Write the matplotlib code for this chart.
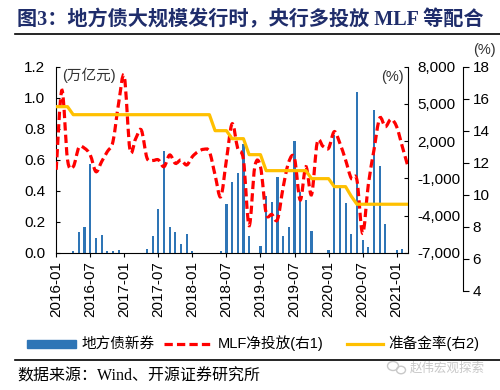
import numpy as np
import matplotlib.pyplot as plt
from matplotlib.path import Path
from matplotlib.patches import PathPatch, Rectangle, Ellipse
from matplotlib.lines import Line2D
from matplotlib.ticker import FuncFormatter

plt.rcParams['font.family'] = ['Liberation Sans', 'Noto Sans CJK SC']

# 2016-01 .. 2021-03, monthly
months = [f"{y}-{m:02d}" for y in range(2016, 2022) for m in range(1, 13)][:63]
tick_labels = ['2016-01', '2016-07', '2017-01', '2017-07', '2018-01', '2018-07',
               '2019-01', '2019-07', '2020-01', '2020-07', '2021-01']

# 地方债新券 (万亿元)
bond = [0, 0, 0, 0.013, 0.137, 0.17, 0.575, 0.094, 0.114, 0.01, 0.01, 0.02,
        0, 0, 0, 0, 0.026, 0.11, 0.285, 0.66, 0.167, 0.133, 0.058, 0.124,
        0.01, 0, 0, 0, 0, 0.015, 0.317, 0.46, 0.515, 0.70, 0.107, 0,
        0.045, 0.369, 0.328, 0.489, 0.107, 0.165, 0.719, 0.39, 0.343, 0.142, 0, 0,
        0.02, 0.76, 0.42, 0.32, 0.124, 1.04, 0.084, 0.041, 0.92, 0.56, 0.19, 0,
        0.017, 0.026, 0]

# MLF净投放 (亿元, 右1)
mlf = [-300, 6100, 500, -50, 1500, 1430, 900, -450, 350, 1160, 1960, 5050,
       7200, 1300, 2200, 2900, 650, 450, 500, -50, 890, 220, 490, 90,
       760, 1160, 1350, 1160, -720, -2470, 490, 3400, 1400, 500, -4800, -50,
       -50, -3800, -3900, -4300, -1700, 350, 620, -2730, -50, -2300, 1900, 1600,
       1430, 2770, 1830, 490, -980, -1120, -5410, -1520, 1290, 3850, 3170, 3770,
       3170, 1560, -50]

# 准备金率 (%, 右2)
rrr = [15.5] * 3 + [15.0] * 25 + [14.0] * 3 + [13.5] * 3 + [12.5] * 3 + \
      [11.5] * 8 + [11.0] * 4 + [10.5] * 3 + [9.9] + [9.4] * 10

bar_color = '#2E75B6'
red = '#FF0000'
gold = '#FFC000'
navy = '#1F2D6B'


def smooth_path(x, y):
    pts = np.column_stack([x, y]).astype(float)
    verts = [pts[0]]
    codes = [Path.MOVETO]
    n = len(pts)
    for k in range(n - 1):
        p0 = pts[k - 1] if k > 0 else pts[k]
        p1, p2 = pts[k], pts[k + 1]
        p3 = pts[k + 2] if k + 2 < n else pts[k + 1]
        verts += [p1 + (p2 - p0) / 6, p2 - (p3 - p1) / 6, p2]
        codes += [Path.CURVE4] * 3
    return Path(verts, codes)


fig = plt.figure(figsize=(5, 3.9), dpi=100)
L, R = 56.2 / 500, 408 / 500
B, T = 1 - 253 / 390, 1 - 66.7 / 390
ax = fig.add_axes([L, B, R - L, T - B])
x = np.arange(len(months))

ax.bar(x, bond, width=0.38, color=bar_color, zorder=2)
ax.set_xlim(0, len(months) - 1)
ax.set_ylim(0, 1.2)
ax.set_yticks(np.arange(0, 1.21, 0.2))
ax.yaxis.set_major_formatter(FuncFormatter(lambda v, p: f"{v:.1f}"))
ax.set_xticks([months.index(t) for t in tick_labels])
ax.set_xticklabels(tick_labels, rotation=90)
ax.tick_params(axis='y', direction='in', length=3, pad=8, labelsize=11)
ax.tick_params(axis='x', direction='out', length=3, pad=3, labelsize=11)
ax.spines['top'].set_visible(False)
ax.spines['right'].set_visible(False)
for s in ('left', 'bottom'):
    ax.spines[s].set_color('black')
ax.text(0.018, 0.955, '(万亿元)', transform=ax.transAxes, fontsize=10.5,
        va='center', ha='left', color='#333333')

ax2 = ax.twinx()
ax2.set_ylim(-7000, 8000)
ax2.set_yticks(np.arange(-7000, 8001, 3000))
ax2.yaxis.set_major_formatter(FuncFormatter(lambda v, p: f"{v:,.0f}"))
ax2.tick_params(axis='y', direction='in', length=3, pad=7, labelsize=11)
for s in ('top', 'left', 'bottom'):
    ax2.spines[s].set_visible(False)
ax2.spines['right'].set_color('black')
ax2.add_patch(PathPatch(smooth_path(x, mlf), fill=False, edgecolor=red,
                        lw=2.3, linestyle=(0, (2.6, 1.3)), capstyle='butt'))
ax2.text(0.955, 0.945, '(%)', transform=ax2.transAxes, fontsize=10.5,
         va='center', ha='center', color='#333333')

# 右2: axis spans 4..18, reaching below the plot area
B3 = 1 - 290.6 / 390
ax3 = fig.add_axes([L, B3, R - L, T - B3])
ax3.patch.set_visible(False)
ax3.set_xlim(0, len(months) - 1)
ax3.set_ylim(4, 18)
ax3.set_yticks(np.arange(4, 19, 2))
ax3.plot(x, rrr, color=gold, lw=2.3, solid_joinstyle='round')
for s in ('top', 'left', 'bottom'):
    ax3.spines[s].set_visible(False)
ax3.spines['right'].set_position(('axes', (463 - 56.2) / (408 - 56.2)))
ax3.spines['right'].set_color('black')
ax3.xaxis.set_visible(False)
ax3.yaxis.tick_right()
ax3.tick_params(axis='y', direction='out', length=4, pad=3, labelsize=11)
fig.text(484 / 500, 1 - 50 / 390, '(%)', fontsize=10.5, ha='center', va='center',
         color='#333333')

# title and rules
fig.text(17 / 500, 1 - 20 / 390, '图3：地方债大规模发行时，央行多投放 MLF 等配合',
         fontsize=14.5, fontweight='bold', color=navy, va='center', ha='left',
         family=['Liberation Serif', 'Noto Sans CJK SC'])
fig.add_artist(Line2D([15 / 500, 1], [1 - 33.5 / 390] * 2, color='black', lw=1.2,
                      transform=fig.transFigure))
fig.add_artist(Line2D([15 / 500, 1], [1 - 360 / 390] * 2, color='black', lw=1.2,
                      transform=fig.transFigure))

# legend
ly = 1 - 343.5 / 390
fig.add_artist(Rectangle((27 / 500, ly - 4 / 390), 49 / 500, 8 / 390,
                         color=bar_color, transform=fig.transFigure))
fig.text(81 / 500, ly, '地方债新券', fontsize=10.5, va='center', ha='left')
fig.add_artist(Line2D([164 / 500, 213 / 500], [ly, ly], color=red, lw=2.3,
                      linestyle=(0, (2.6, 1.3)), transform=fig.transFigure))
fig.text(218 / 500, ly, 'MLF净投放(右1)', fontsize=10.5, va='center', ha='left')
fig.add_artist(Line2D([347 / 500, 383 / 500], [ly, ly], color=gold, lw=2.3,
                      transform=fig.transFigure))
fig.text(388 / 500, ly, '准备金率(右2)', fontsize=10.5, va='center', ha='left')

# source + watermark
fig.text(17 / 500, 1 - 377 / 390, '数据来源：Wind、开源证券研究所', fontsize=11.5,
         va='center', ha='left', family=['Liberation Serif', 'Noto Sans CJK SC'])
fig.add_artist(Ellipse((393 / 500, 1 - 366 / 390), 11 / 500, 9 / 390, fill=False,
                       edgecolor='#c8c8c8', lw=1, transform=fig.transFigure))
fig.add_artist(Ellipse((401 / 500, 1 - 370 / 390), 9 / 500, 7.5 / 390, fill=False,
                       edgecolor='#c8c8c8', lw=1, transform=fig.transFigure))
fig.text(410 / 500, 1 - 368 / 390, '赵伟宏观探索', fontsize=9, color='#c8c8c8',
         va='center', ha='left')

fig.savefig('out.png', dpi=100)
